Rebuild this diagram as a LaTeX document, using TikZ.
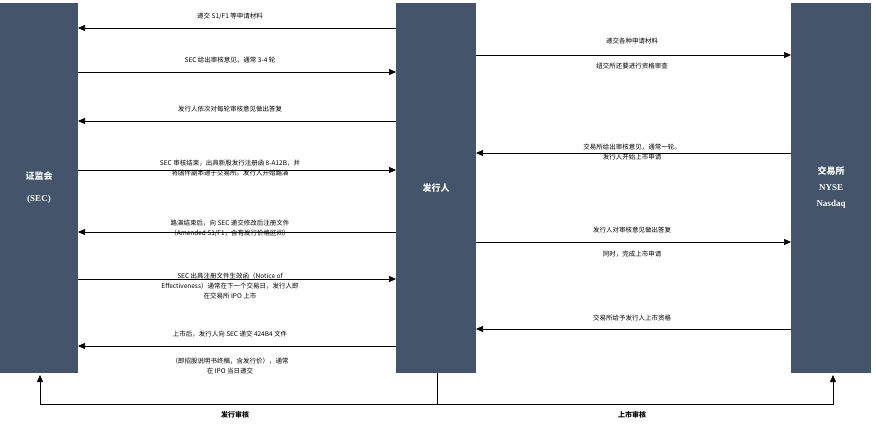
\documentclass[tikz,border=0pt]{standalone}
\usepackage{fontspec}
\setmainfont{Liberation Serif}
\newfontfamily\cjk{Noto Sans CJK SC}
\usetikzlibrary{arrows.meta}
\definecolor{colbar}{HTML}{44546A}
\tikzset{
  bar/.style={fill=colbar,draw=none},
  msg/.style={-{Triangle[length=7pt,width=6pt]},line width=0.6pt},
  lbl/.style={font=\cjk\fontsize{6.5}{10}\selectfont,align=center,inner sep=0pt},
  head/.style={font=\cjk\bfseries\fontsize{9}{12}\selectfont,text=white,align=center},
  foot/.style={font=\cjk\bfseries\fontsize{7}{9}\selectfont}
}
\begin{document}
\begin{tikzpicture}[x=1pt,y=-1pt]
\useasboundingbox (0,0) rectangle (876,439);
\fill[white] (0,0) rectangle (876,439);
\fill[bar] (0,3) rectangle (78,373); \coordinate (secB) at (40,375);
\fill[bar] (396,3) rectangle (476,373); \coordinate (issB) at (437,373);
\fill[bar] (791,3) rectangle (871,373); \coordinate (exB) at (833,375);
\node[head] (sec) at (39,188) {证监会\\[10pt]\textrm{(SEC)}};
\node[head] (iss) at (436,188) {发行人};
\node[head] (ex) at (831,188) {交易所\\[4pt]\textrm{NYSE}\\[4pt]\textrm{Nasdaq}};
% left arrows
\coordinate (l1a) at (396,28); \coordinate (l1b) at (78,28);
\draw[msg] (l1a) -- (l1b);
\node[lbl] (t1) at (230,16) {递交 S1/F1 等申请材料};
\coordinate (l2a) at (78,72); \coordinate (l2b) at (396,72);
\draw[msg] (l2a) -- (l2b);
\node[lbl] (t2) at (230,60) {SEC 给出审核意见，通常 3-4 轮};
\coordinate (l3a) at (396,121); \coordinate (l3b) at (78,121);
\draw[msg] (l3a) -- (l3b);
\node[lbl] (t3) at (230,109) {发行人依次对每轮审核意见做出答复};
\coordinate (l4a) at (78,170); \coordinate (l4b) at (396,170);
\draw[msg] (l4a) -- (l4b);
\node[lbl] (t4) at (230,168) {SEC 审核结束，出具新股发行注册函 8-A12B，并\\将函件副本递于交易所。发行人开始路演};
\coordinate (l5a) at (396,232); \coordinate (l5b) at (78,232);
\draw[msg] (l5a) -- (l5b);
\node[lbl] (t5) at (230,228) {路演结束后，向 SEC 递交修改后注册文件\\（Amended S1/F1，含有发行价格区间）};
\coordinate (l6a) at (78,279); \coordinate (l6b) at (396,279);
\draw[msg] (l6a) -- (l6b);
\node[lbl] (t6) at (230,286) {SEC 出具注册文件生效函（Notice of\\Effectiveness）通常在下一个交易日，发行人即\\在交易所 IPO 上市};
\coordinate (l7a) at (396,346); \coordinate (l7b) at (78,346);
\draw[msg] (l7a) -- (l7b);
\node[lbl] (t7) at (230,334) {上市后，发行人向 SEC 递交 424B4 文件};
\node[lbl] (t7b) at (230,366) {（即招股说明书终稿，含发行价），通常\\在 IPO 当日递交};
% right arrows
\coordinate (r1a) at (476,55); \coordinate (r1b) at (791,55);
\draw[msg] (r1a) -- (r1b);
\node[lbl] (u1) at (632,41) {递交各种申请材料};
\node[lbl] (u1b) at (632,66) {纽交所还要进行资格审查};
\coordinate (r2a) at (791,153); \coordinate (r2b) at (476,153);
\draw[msg] (r2a) -- (r2b);
\node[lbl] (u2) at (632,152) {交易所给出审核意见，通常一轮。\\发行人开始上市申请};
\coordinate (r3a) at (476,242); \coordinate (r3b) at (791,242);
\draw[msg] (r3a) -- (r3b);
\node[lbl] (u3) at (632,230) {发行人对审核意见做出答复};
\node[lbl] (u3b) at (632,254) {同时，完成上市申请};
\coordinate (r4a) at (791,329); \coordinate (r4b) at (476,329);
\draw[msg] (r4a) -- (r4b);
\node[lbl] (u4) at (632,318) {交易所给予发行人上市资格};
% bottom
\coordinate (bm) at (437,404); \coordinate (bl) at (40,404); \coordinate (br) at (833,404);
\draw[line width=0.6pt] (issB) -- (bm);
\draw[msg] (bm) -- (bl) -- (secB);
\draw[msg] (bm) -- (br) -- (exB);
\node[foot] (f1) at (235,415) {发行审核};
\node[foot] (f2) at (632,415) {上市审核};
\end{tikzpicture}
\end{document}
